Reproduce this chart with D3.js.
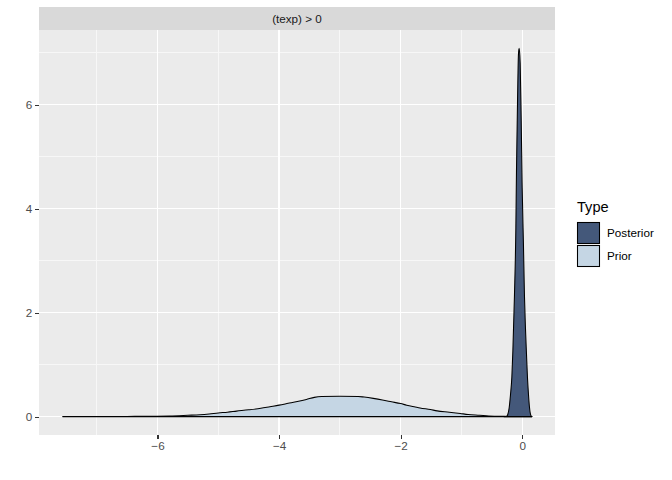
<!DOCTYPE html>
<html><head><meta charset="utf-8">
<script src="https://cdn.jsdelivr.net/npm/d3@7/dist/d3.min.js"></script>
<style>body{margin:0;background:#fff}svg{display:block;font-family:"Liberation Sans",Arial,sans-serif}</style>
</head><body><svg id="c" width="672" height="480"></svg>
<script>
const facetLabel = "(texp) > 0";
const types = ["Posterior", "Prior"];
const typeColors = ["#44587A", "#C5D6E4"];
const xTicks = [-6, -4, -2, 0];
const xMinor = [-7, -5, -3, -1];
const yTicks = [0, 2, 4, 6];
const yMinor = [1, 3, 5, 7];

const posteriorX = [-0.30, -0.255, -0.240, -0.214, -0.193, -0.170, -0.153, -0.127, -0.104, -0.094, -0.077, -0.061, -0.050, -0.033, -0.016, 0.000, 0.021, 0.038, 0.054, 0.071, 0.087, 0.104, 0.120, 0.148, 0.16];
const posteriorY = [0, 0.005, 0.03, 0.17, 0.41, 0.76, 1.27, 2.33, 3.63, 4.69, 6.03, 6.97, 7.08, 6.8, 5.7, 4.4, 3.3, 2.3, 1.7, 1.2, 0.75, 0.42, 0.18, 0.01, 0];

const priorX = [-7.56, -7.0, -6.5, -6.3, -5.8, -5.5, -5.3, -5.15, -5.0, -4.85, -4.7, -4.5, -4.3, -4.15, -4.0, -3.85, -3.7, -3.55, -3.42, -3.3, -3.0, -2.7, -2.6, -2.45, -2.3, -2.15, -2.0, -1.9, -1.76, -1.68, -1.51, -1.4, -1.2, -1.02, -0.89, -0.7, -0.55, -0.3, 0.0, 0.16];
const priorY = [0, 0.001, 0.003, 0.006, 0.012, 0.025, 0.035, 0.05, 0.07, 0.085, 0.105, 0.13, 0.16, 0.19, 0.22, 0.255, 0.29, 0.33, 0.37, 0.385, 0.39, 0.387, 0.375, 0.35, 0.32, 0.285, 0.25, 0.22, 0.186, 0.167, 0.135, 0.11, 0.085, 0.06, 0.04, 0.025, 0.012, 0.004, 0.001, 0];

const svg = d3.select("#c");
const P = {l: 39, r: 555, t: 30, b: 435};
const x = d3.scaleLinear().domain([-7.95, 0.54]).range([P.l, P.r]);
const y = d3.scaleLinear().domain([-0.354, 7.434]).range([P.b, P.t]);

svg.append("rect").attr("width", 672).attr("height", 480).attr("fill", "#fff");
// strip
svg.append("rect").attr("x", P.l).attr("y", 7).attr("width", P.r - P.l).attr("height", P.t - 7).attr("fill", "#D9D9D9");
svg.append("text").attr("x", (P.l + P.r) / 2).attr("y", 18.5).attr("dy", "0.35em").attr("text-anchor", "middle")
  .attr("font-size", 11.7).attr("fill", "#1A1A1A").text(facetLabel);
// panel
svg.append("rect").attr("x", P.l).attr("y", P.t).attr("width", P.r - P.l).attr("height", P.b - P.t).attr("fill", "#EBEBEB");
const g = svg.append("g").attr("shape-rendering", "crispEdges");
xMinor.forEach(v => g.append("line").attr("x1", x(v)).attr("x2", x(v)).attr("y1", P.t).attr("y2", P.b).attr("stroke", "#F7F7F7").attr("stroke-width", 1));
yMinor.forEach(v => g.append("line").attr("y1", y(v)).attr("y2", y(v)).attr("x1", P.l).attr("x2", P.r).attr("stroke", "#F7F7F7").attr("stroke-width", 1));
xTicks.forEach(v => g.append("line").attr("x1", x(v)).attr("x2", x(v)).attr("y1", P.t).attr("y2", P.b).attr("stroke", "#fff").attr("stroke-width", 1.3));
yTicks.forEach(v => g.append("line").attr("y1", y(v)).attr("y2", y(v)).attr("x1", P.l).attr("x2", P.r).attr("stroke", "#fff").attr("stroke-width", 1.3));

const area = d3.area().x(d => x(d[0])).y0(y(0)).y1(d => y(d[1])).curve(d3.curveMonotoneX);
const series = [d3.zip(posteriorX, posteriorY), d3.zip(priorX, priorY)];
series.forEach((s, i) => {
  svg.append("path").datum(s).attr("d", area).attr("fill", typeColors[i]).attr("stroke", "#000").attr("stroke-width", 1.07).attr("stroke-linejoin", "round");
});

// axes
const xa = svg.append("g").attr("transform", `translate(0,${P.b})`).call(d3.axisBottom(x).tickValues(xTicks).tickSize(3.7).tickPadding(3).tickFormat(d3.format("d")));
const ya = svg.append("g").attr("transform", `translate(${P.l},0)`).call(d3.axisLeft(y).tickValues(yTicks).tickSize(3.7).tickPadding(3).tickFormat(d3.format("d")));
[xa, ya].forEach(a => {
  a.select(".domain").remove();
  a.selectAll("line").attr("stroke", "#333").attr("stroke-width", 1.07).attr("shape-rendering", "crispEdges");
  a.selectAll("text").attr("fill", "#4D4D4D").attr("font-size", 11.7).attr("font-family", "Liberation Sans, Arial, sans-serif");
});
xa.selectAll("text").attr("dy", "0.71em");

// legend
const lg = svg.append("g");
lg.append("text").attr("x", 577).attr("y", 207).attr("dy", "0.35em").attr("font-size", 14.6).attr("fill", "#000").text("Type");
types.forEach((t, i) => {
  const yy = 222.5 + i * 23;
  lg.append("rect").attr("x", 577.5).attr("y", yy).attr("width", 22).attr("height", 21).attr("fill", typeColors[i]).attr("stroke", "#000").attr("stroke-width", 1.07);
  lg.append("text").attr("x", 607).attr("y", yy + 10.5).attr("dy", "0.35em").attr("font-size", 11.7).attr("fill", "#000").text(t);
});
</script></body></html>
